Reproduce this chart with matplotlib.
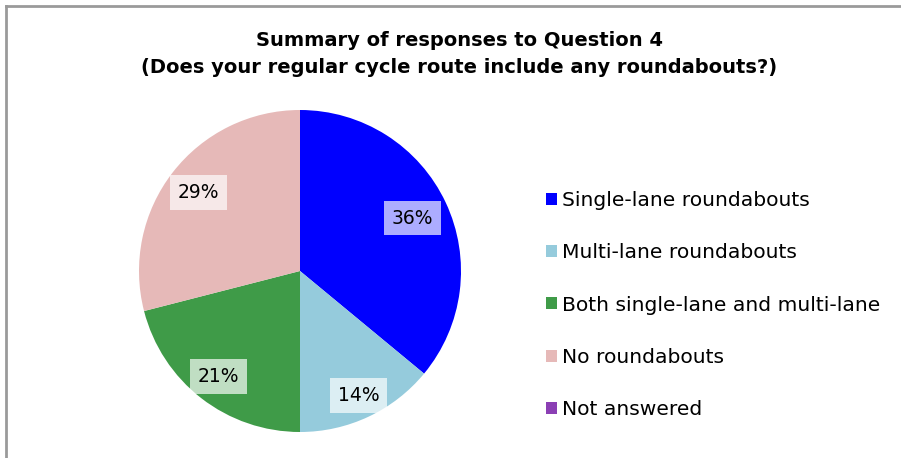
import matplotlib
matplotlib.use("Agg")
import numpy as np
import matplotlib.pyplot as plt
from matplotlib.patches import Patch
from matplotlib.lines import Line2D

categories = ["Single-lane roundabouts", "Multi-lane roundabouts",
              "Both single-lane and multi-lane", "No roundabouts", "Not answered"]
values = [36, 14, 21, 29, 0]
colors = ["#0000ff", "#95cbdc", "#3f9b48", "#e6b9b8", "#8b3fb4"]
title = "Summary of responses to Question 4\n(Does your regular cycle route include any roundabouts?)"
# per-slice label distance (fraction of radius), a style setting
label_dist = [0.77, 0.855, 0.83, 0.795, 0.8]

W, H = 901, 458
fig = plt.figure(figsize=(W / 100, H / 100), dpi=100)
fig.patch.set_facecolor("white")

# border lines (left and top)
fig.add_artist(Line2D([6 / W, 6 / W], [0, 1 - 6 / H], transform=fig.transFigure,
                      color="#9a9a9a", lw=2))
fig.add_artist(Line2D([6 / W, 1], [1 - 6 / H, 1 - 6 / H], transform=fig.transFigure,
                      color="#9a9a9a", lw=2))

cx, cy, r = 300, 271, 161
ax = fig.add_axes([(cx - r) / W, (H - cy - r) / H, 2 * r / W, 2 * r / H])


def fmt(p):
    return "" if p < 0.5 else f"{p:.0f}%"


wedges, texts, autotexts = ax.pie(values, colors=colors, startangle=90, counterclock=False,
                                  autopct=fmt, pctdistance=0.76, radius=1,
                                  textprops=dict(fontsize=13.5, color="black"))
for w, t, d in zip(wedges, autotexts, label_dist):
    th = np.deg2rad((w.theta1 + w.theta2) / 2)
    t.set_position((d * np.cos(th), d * np.sin(th)))
    t.set_bbox(dict(facecolor="white", alpha=0.68, edgecolor="none", pad=5.5))
ax.set_xlim(-1, 1)
ax.set_ylim(-1, 1)
ax.set_aspect("equal")
ax.axis("off")

fig.text(459 / W, 1 - 54 / H, title, ha="center", va="center", fontsize=14,
         fontweight="bold", linespacing=1.5)

handles = [Patch(facecolor=c, edgecolor="none") for c in colors]
fig.legend(handles, categories, loc="upper left",
           bbox_to_anchor=(546 / W, 1 - 191 / H), frameon=False, fontsize=14.6,
           handlelength=0.53, handleheight=0.53, handletextpad=0.27,
           labelspacing=1.64, borderpad=0, borderaxespad=0)

fig.savefig("out.png", dpi=100, facecolor="white")
